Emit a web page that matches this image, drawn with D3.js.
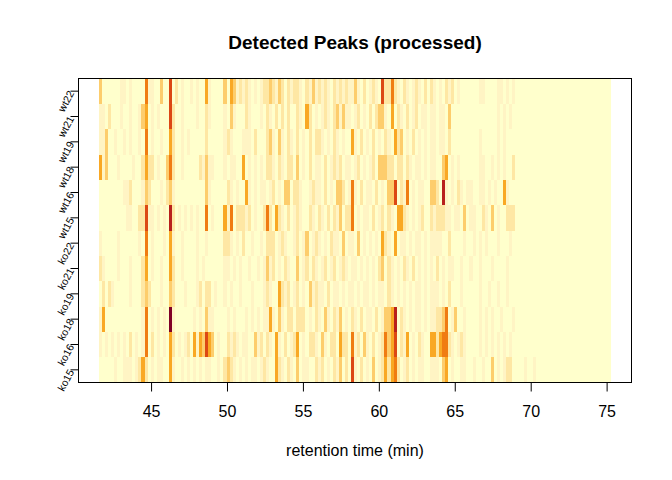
<!DOCTYPE html>
<html>
<head>
<meta charset="utf-8">
<script src="https://cdn.jsdelivr.net/npm/d3@7"></script>
<style>
  body { margin: 0; background: #fff; }
  text { font-family: Arial, "Liberation Sans", sans-serif; }
</style>
</head>
<body>
<script>

// samples, bottom row first
var samples = ["ko15", "ko16", "ko18", "ko19", "ko21", "ko22",
               "wt15", "wt16", "wt18", "wt19", "wt21", "wt22"];

// peak counts per 0.2 min bin (one digit per bin), same order as samples
var peakLevels = [
    "000001001110124201011004100101010101 100102321010101101210042102103011002 120102130206102010301242452012010110 011103401001100100100301012200001001", // ko15
    "101010101020101502010104201012041436 430100212101100312021041020124010221 031022042205120310201253460214010210 044245521012100001010101010100000000", // ko16
    "140000000000001501010108100000010103 110000101000101010114103102202220102 103102130102102011020133470210101101 011223501300100001010100100010000000", // ko18
    "020210000010002320001003200010001202 201001010010001000121004212012010312 110201101011010110101102101010101101 011101020001000001001001001000000000", // ko19
    "210000100010002401001004200100001010 000001101010010010131201021003012021 012012012101101010102302101021020101 010201011001001001000100001000000000", // ko21
    "100000100000010501000104100100001001 000002210102001001022201210012013012 101021103011030101010421040110101101 011110020000100101010001000100000000", // ko22
    "000000000110022611010107201010101005 010004150222120100252042102012100210 210202130225010110201202104421010120 021222110110301100210301002220000000", // wt15
    "000000001120001320001023100000000003 100000210100410101101201033022100121 102010332015102011020103360215010110 033207101021011001101010041000000000", // wt16
    "413000100001002422010035200100000213 110001011004010101022102102203010201 102012120110120101203332202202101101 011003401010000001100101010020000000", // wt18
    "113001001010010501001004200101000002 000001210001110200023103102102010202 210102101004102010201021042301020101 011011020000000001000001010000000000", // wt19
    "110200010010013401010006200100001002 100001031000210001021020202002104201 012102313110120102023310402102012011 011011030000000000000001010100000000", // wt21
    "300000011010000511003006020100101004 100003043121210101223213202122102131 212102121211310201210622521021012102 021010212010000001100001101010000000"  // wt22
];

var rtRange = [41.57, 75.29];   // retention time covered by the image (min)
var binWidth = 0.2;             // min
var xTicks = [45, 50, 55, 60, 65, 70, 75];
var levelColours = ["#ffffcc", "#fff4c4", "#fee7a4", "#fdcd6c", "#f9a824",
                    "#f07c12", "#dc4814", "#b8201c", "#800026"];

var width = 672, height = 480;
var plot = { left: 78.5, right: 631.5, top: 78.5, bottom: 382.5 };

var svg = d3.select("body").append("svg")
    .attr("width", width)
    .attr("height", height);

// R style: 4% extension on x, exact on y
var pad = (rtRange[1] - rtRange[0]) * 0.04;
var x = d3.scaleLinear()
    .domain([rtRange[0] - pad, rtRange[1] + pad])
    .range([plot.left, plot.right]);

var y = d3.scaleBand()
    .domain(samples)
    .range([plot.bottom, plot.top])
    .padding(0);

var colour = d3.scaleLinear()
    .domain(d3.range(levelColours.length))
    .range(levelColours);

// flatten strings into cells
var cells = [];
samples.forEach(function (s, i) {
    var str = peakLevels[i].replace(/\s+/g, "");
    for (var j = 0; j < str.length; j++) {
        var v = +str[j];
        if (v > 0) {
            cells.push({ sample: s, t0: rtRange[0] + j * binWidth, level: v });
        }
    }
});

var img = svg.append("g");

// empty bins
img.append("rect")
    .attr("x", x(rtRange[0]))
    .attr("y", plot.top)
    .attr("width", x(rtRange[1]) - x(rtRange[0]))
    .attr("height", plot.bottom - plot.top)
    .attr("fill", colour(0));

img.selectAll("rect.cell")
    .data(cells)
    .enter().append("rect")
    .attr("class", "cell")
    .attr("x", function (d) { return x(d.t0); })
    .attr("y", function (d) { return y(d.sample); })
    .attr("width", function (d) { return x(d.t0 + binWidth) - x(d.t0); })
    .attr("height", y.bandwidth())
    .attr("fill", function (d) { return colour(d.level); })
    .attr("shape-rendering", "crispEdges");

// x axis
var xAxis = svg.append("g")
    .attr("transform", "translate(0," + plot.bottom + ")")
    .call(d3.axisBottom(x).tickValues(xTicks).tickSize(9).tickPadding(14));
xAxis.select(".domain").remove();
xAxis.selectAll("text").style("font-size", "16px").attr("fill", "#000");
xAxis.selectAll("line").attr("stroke", "#000");

// y axis with slanted sample names
var yAxis = svg.append("g")
    .attr("transform", "translate(" + plot.left + ",0)")
    .call(d3.axisLeft(y).tickSize(8));
yAxis.select(".domain").remove();
yAxis.selectAll("line").attr("stroke", "#000");
yAxis.selectAll("text")
    .attr("x", null)
    .attr("dy", null)
    .attr("text-anchor", "end")
    .attr("transform", "translate(-4,2) rotate(-62)")
    .attr("fill", "#000")
    .style("font-size", "10.5px");

// box
svg.append("rect")
    .attr("x", plot.left)
    .attr("y", plot.top)
    .attr("width", plot.right - plot.left)
    .attr("height", plot.bottom - plot.top)
    .attr("fill", "none")
    .attr("stroke", "#000");

svg.append("text")
    .attr("x", (plot.left + plot.right) / 2)
    .attr("y", 49)
    .attr("text-anchor", "middle")
    .style("font-size", "19px")
    .style("font-weight", "bold")
    .text("Detected Peaks (processed)");

svg.append("text")
    .attr("x", (plot.left + plot.right) / 2)
    .attr("y", 456)
    .attr("text-anchor", "middle")
    .style("font-size", "16px")
    .text("retention time (min)");

</script>
</body>
</html>
